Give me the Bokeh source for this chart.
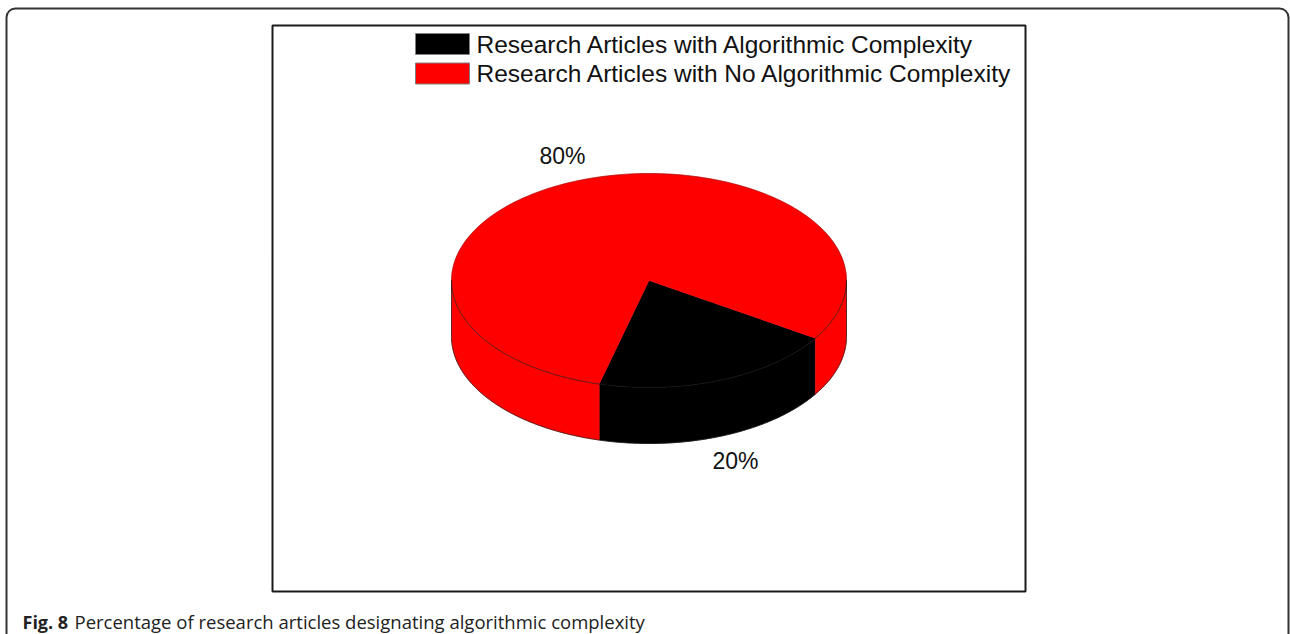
import numpy as np
from bokeh.plotting import figure
from bokeh.models import Range1d, BoxAnnotation
from bokeh.core.properties import value
from bokeh.embed import file_html
from bokeh.resources import INLINE

# ---- data ----
categories = [
    "Research Articles with Algorithmic Complexity",
    "Research Articles with No Algorithmic Complexity",
]
shares = [20, 80]
slice_colors = ["#000000", "#ff0000"]
pct_labels = ["20%", "80%"]
caption_bold = "Fig. 8"
caption_text = "Percentage of research articles designating algorithmic complexity"

# ---- layout ----
W, H = 1290, 634
CX, CY = 648.5, 280.0      # centre of the top face
RX, RY = 197.5, 107.0      # radii of the top ellipse
DEPTH = 56.0               # height of the cylinder wall
START_DEG = -104.6         # angle where the first slice starts (counter-clockwise)

p = figure(width=W, height=H, x_range=Range1d(0, W), y_range=Range1d(H, 0),
           output_backend="svg", toolbar_location=None, min_border=0,
           x_axis_type=None, y_axis_type=None)
p.grid.visible = False
p.outline_line_color = None
p.background_fill_color = "white"
p.border_fill_color = "white"


def ell(t, dy=0.0):
    t = np.radians(t)
    return CX + RX * np.cos(t), CY - RY * np.sin(t) + dy


# slice boundaries in degrees
total = float(sum(shares))
bounds = []
a = START_DEG
for s in shares:
    b = a + 360.0 * s / total
    bounds.append((a, b))
    a = b

# ---- side walls (only the front half of the cylinder is visible) ----
wall_xs, wall_ys, wall_cols = [], [], []
for (a1, a2), col in zip(bounds, slice_colors):
    for k in range(-1, 2):
        lo, hi = -180.0 + 360.0 * k, 0.0 + 360.0 * k
        s1, s2 = max(a1, lo), min(a2, hi)
        if s2 - s1 <= 1e-9:
            continue
        t = np.linspace(s1, s2, 120)
        xt, yt = ell(t)
        xb, yb = ell(t[::-1], DEPTH)
        wall_xs.append(np.concatenate([xt, xb]))
        wall_ys.append(np.concatenate([yt, yb]))
        wall_cols.append(col)
p.patches(wall_xs, wall_ys, fill_color=wall_cols, line_color=wall_cols, line_width=0.5)

# ---- top face ----
top_xs, top_ys = [], []
for (a1, a2) in bounds:
    t = np.linspace(a1, a2, 300)
    x, y = ell(t)
    top_xs.append(np.concatenate([[CX], x]))
    top_ys.append(np.concatenate([[CY], y]))
p.patches(top_xs, top_ys, fill_color=slice_colors, line_color=slice_colors, line_width=0.5)

# thin outlines of the cylinder
t = np.linspace(-180, 0, 300)
fx, fy = ell(t)
p.line(fx, fy, line_color="#1a1a1a", line_width=0.7)
t = np.linspace(0, 180, 300)
kx, ky = ell(t)
p.line(kx, ky, line_color="#3a0000", line_width=0.5, line_alpha=0.6)
t = np.linspace(-180, 0, 300)
bx, by = ell(t, DEPTH)
p.line(bx, by, line_color="#1a1a1a", line_width=0.7)
for ang in (-180.0, 0.0):
    x0, y0 = ell(ang)
    p.line([x0, x0], [y0, y0 + DEPTH], line_color="#1a1a1a", line_width=0.7)

# ---- percentage labels ----
lx, ly = [], []
for (a1, a2) in bounds:
    m = np.radians(0.5 * (a1 + a2))
    x = CX + 1.2 * RX * np.cos(m)
    y = CY - 1.25 * RY * np.sin(m) + (DEPTH if np.sin(m) < 0 else 0.0)
    lx.append(x)
    ly.append(y)
p.text(lx, ly, text=pct_labels, text_font=value("Liberation Sans"),
       text_font_size="23px", text_align="center", text_baseline="middle",
       text_color="#111111")

# ---- legend ----
leg_y = [43.5, 73.0]
p.rect(x=[442, 442], y=leg_y, width=54, height=21, fill_color=slice_colors,
       line_color="#7f7f7f", line_width=1)
p.text(x=[476, 476], y=leg_y, text=categories, text_font=value("Liberation Sans"),
       text_font_size="24.5px", text_align="left", text_baseline="middle",
       text_color="#111111")

# ---- frames ----
p.quad(left=272, right=1025, top=25, bottom=591, fill_color=None,
       line_color="#1a1a1a", line_width=2)
p.add_layout(BoxAnnotation(left=6, right=1288, top=8, bottom=700, border_radius=9,
                           fill_color=None, fill_alpha=0, line_color="#333333",
                           line_width=2, line_alpha=1))

# ---- caption ----
p.text(x=[22], y=[621], text=[caption_bold], text_font=value("Open Sans"),
       text_font_style="bold", text_font_size="18px", text_baseline="alphabetic",
       text_color="#222222")
p.text(x=[74], y=[621], text=[caption_text], text_font=value("Open Sans"),
       text_font_size="18.5px", text_baseline="alphabetic", text_color="#222222")

open("out.html", "w").write(file_html(p, INLINE))
